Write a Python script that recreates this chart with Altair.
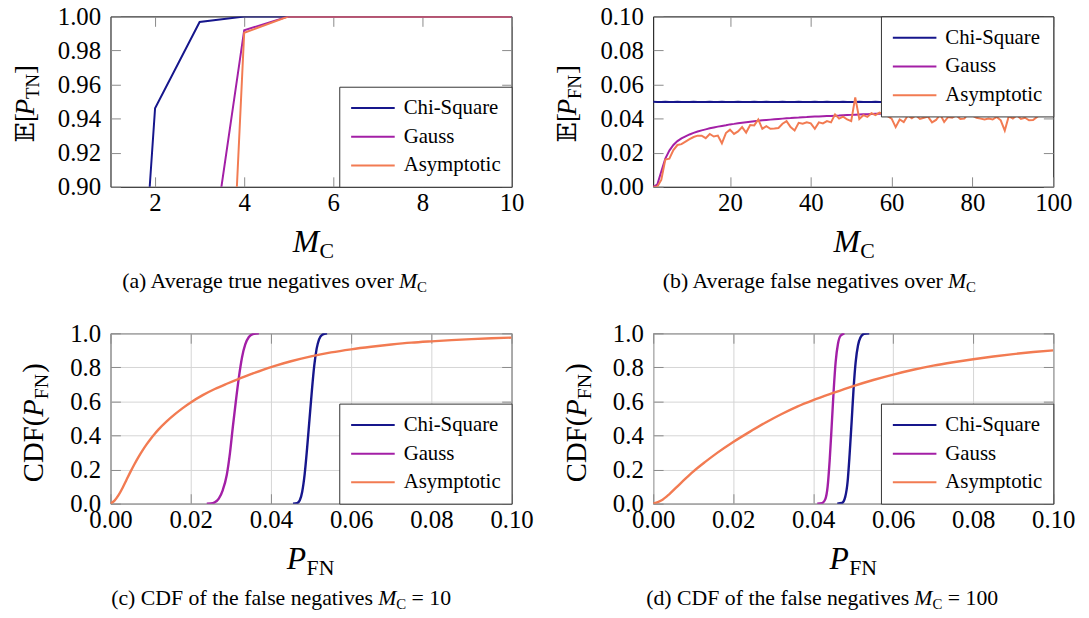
import altair as alt
import pandas as pd

SERIES = ["Chi-Square", "Gauss", "Asymptotic"]
COLORS = ["#16168c", "#a31fa6", "#f27b52"]
FONT = "Liberation Serif"
MATHFONT = "Liberation Serif, DejaVu Serif, DejaVu Sans"
TICK = "#8a8a8a"
GRID = "#d4d4d4"

# ---------------- (a) average true negatives over M_C ----------------
a_M = [1, 2, 3, 4, 5, 6, 7, 8, 9, 10]
a_chi = [0.563, 0.946, 0.9967, 0.9999, 1.0, 1.0, 1.0, 1.0, 1.0, 1.0]
a_gauss = [0.021, 0.352, 0.812, 0.9919, 1.0, 1.0, 1.0, 1.0, 1.0, 1.0]
a_asym = [0.004, 0.118, 0.439, 0.9904, 1.0, 1.0, 1.0, 1.0, 1.0, 1.0]

# ---------------- (b) average false negatives over M_C ----------------
b_M = list(range(1, 101))
b_chi = [0.0499, 0.0498, 0.0498, 0.0499, 0.0498, 0.0498, 0.0499, 0.0498, 0.0498, 0.0498,
         0.0499, 0.0498, 0.0498, 0.0498, 0.0499, 0.0498, 0.0498, 0.0499, 0.0498, 0.0498,
         0.0498, 0.0499, 0.0498, 0.0498, 0.0498, 0.0499, 0.0498, 0.0498, 0.0499, 0.0498,
         0.0498, 0.0498, 0.0499, 0.0498, 0.0498, 0.0498, 0.0499, 0.0498, 0.0498, 0.0498,
         0.0499, 0.0498, 0.0498, 0.0499, 0.0498, 0.0498, 0.0498, 0.0499, 0.0498, 0.0498,
         0.0498, 0.0499, 0.0498, 0.0498, 0.0498, 0.0499, 0.0498, 0.0498, 0.0499, 0.0498,
         0.0498, 0.0498, 0.0499, 0.0498, 0.0498, 0.0498, 0.0499, 0.0498, 0.0498, 0.0498,
         0.0499, 0.0498, 0.0498, 0.0499, 0.0498, 0.0498, 0.0498, 0.0499, 0.0498, 0.0498,
         0.0498, 0.0499, 0.0498, 0.0498, 0.0498, 0.0499, 0.0498, 0.0498, 0.0499, 0.0498,
         0.0498, 0.0498, 0.0499, 0.0498, 0.0498, 0.0498, 0.0499, 0.0498, 0.0498, 0.0498]
b_gauss = [0.0000, 0.0012, 0.0090, 0.0165, 0.0212, 0.0245, 0.0268, 0.0284, 0.0296, 0.0307,
           0.0316, 0.0324, 0.0331, 0.0337, 0.0343, 0.0348, 0.0353, 0.0357, 0.0361, 0.0366,
           0.0369, 0.0373, 0.0376, 0.0379, 0.0382, 0.0385, 0.0387, 0.0390, 0.0392, 0.0394,
           0.0396, 0.0398, 0.0400, 0.0402, 0.0403, 0.0405, 0.0406, 0.0408, 0.0409, 0.0411,
           0.0412, 0.0413, 0.0414, 0.0415, 0.0416, 0.0417, 0.0418, 0.0420, 0.0421, 0.0422,
           0.0423, 0.0424, 0.0425, 0.0426, 0.0427, 0.0428, 0.0429, 0.0430, 0.0430, 0.0431,
           0.0432, 0.0432, 0.0433, 0.0433, 0.0434, 0.0434, 0.0435, 0.0435, 0.0436, 0.0436,
           0.0437, 0.0437, 0.0437, 0.0438, 0.0438, 0.0438, 0.0439, 0.0439, 0.0439, 0.0440,
           0.0440, 0.0440, 0.0440, 0.0441, 0.0441, 0.0441, 0.0441, 0.0442, 0.0442, 0.0442,
           0.0442, 0.0442, 0.0443, 0.0443, 0.0443, 0.0443, 0.0443, 0.0444, 0.0444, 0.0444]
b_asym = [0.0000, 0.0000, 0.0040, 0.0160, 0.0165, 0.0215, 0.0245, 0.0250, 0.0265, 0.0280,
          0.0292, 0.0300, 0.0300, 0.0285, 0.0310, 0.0295, 0.0300, 0.0255, 0.0315, 0.0335,
          0.0310, 0.0325, 0.0350, 0.0318, 0.0362, 0.0360, 0.0395, 0.0340, 0.0355, 0.0340,
          0.0342, 0.0345, 0.0370, 0.0385, 0.0350, 0.0330, 0.0375, 0.0370, 0.0378, 0.0372,
          0.0340, 0.0378, 0.0372, 0.0385, 0.0378, 0.0425, 0.0400, 0.0412, 0.0395, 0.0385,
          0.0525, 0.0398, 0.0420, 0.0410, 0.0432, 0.0420, 0.0435, 0.0425, 0.0415, 0.0400,
          0.0350, 0.0395, 0.0380, 0.0418, 0.0402, 0.0420, 0.0398, 0.0405, 0.0412, 0.0378,
          0.0392, 0.0425, 0.0380, 0.0410, 0.0405, 0.0420, 0.0398, 0.0400, 0.0430, 0.0418,
          0.0405, 0.0400, 0.0395, 0.0400, 0.0395, 0.0410, 0.0390, 0.0330, 0.0415, 0.0400,
          0.0420, 0.0398, 0.0405, 0.0390, 0.0392, 0.0410, 0.0428, 0.0415, 0.0440, 0.0430]

# ---------------- (c) CDF of P_FN, M_C = 10 ----------------
c_chi_x = [0.0455, 0.0465, 0.0472, 0.0478, 0.0484, 0.0490, 0.0496, 0.0502, 0.0508, 0.0514, 0.0520, 0.0528, 0.0540]
c_chi_y = [0.000, 0.003, 0.020, 0.070, 0.170, 0.320, 0.490, 0.660, 0.810, 0.910, 0.965, 0.992, 1.000]
c_gauss_x = [0.0240, 0.0250, 0.0260, 0.0270, 0.0280, 0.0290, 0.0298, 0.0305, 0.0312, 0.0320, 0.0328, 0.0336, 0.0345, 0.0355, 0.0370]
c_gauss_y = [0.000, 0.001, 0.008, 0.030, 0.080, 0.170, 0.300, 0.450, 0.590, 0.740, 0.860, 0.935, 0.978, 0.995, 1.000]
c_asym_x = [0.000, 0.001, 0.002, 0.003, 0.004, 0.005, 0.006, 0.007, 0.008, 0.009, 0.010, 0.011, 0.012, 0.014,
            0.016, 0.018, 0.020, 0.023, 0.026, 0.029, 0.032, 0.035, 0.038, 0.041, 0.045, 0.050, 0.055, 0.060,
            0.065, 0.070, 0.075, 0.080, 0.085, 0.090, 0.095, 0.100]
c_asym_y = [0.000, 0.018, 0.050, 0.092, 0.140, 0.188, 0.233, 0.275, 0.313, 0.348, 0.380, 0.409, 0.436, 0.483,
            0.524, 0.561, 0.594, 0.637, 0.673, 0.704, 0.733, 0.760, 0.786, 0.809, 0.836, 0.865, 0.888, 0.906,
            0.921, 0.934, 0.945, 0.953, 0.960, 0.966, 0.971, 0.975]

# ---------------- (d) CDF of P_FN, M_C = 100 ----------------
d_chi_x = [0.0460, 0.0472, 0.0480, 0.0486, 0.0491, 0.0496, 0.0501, 0.0506, 0.0512, 0.0518, 0.0527, 0.0540]
d_chi_y = [0.000, 0.004, 0.040, 0.130, 0.290, 0.480, 0.680, 0.830, 0.930, 0.975, 0.997, 1.000]
d_gauss_x = [0.0410, 0.0422, 0.0430, 0.0436, 0.0441, 0.0446, 0.0451, 0.0456, 0.0462, 0.0468, 0.0478]
d_gauss_y = [0.000, 0.003, 0.025, 0.100, 0.250, 0.450, 0.660, 0.830, 0.940, 0.985, 1.000]
d_asym_x = [0.000, 0.002, 0.004, 0.006, 0.008, 0.010, 0.013, 0.016, 0.020, 0.024, 0.028, 0.032, 0.036,
            0.040, 0.045, 0.050, 0.055, 0.060, 0.065, 0.070, 0.075, 0.080, 0.085, 0.090, 0.095, 0.100]
d_asym_y = [0.000, 0.018, 0.055, 0.100, 0.145, 0.188, 0.245, 0.298, 0.362, 0.420, 0.475, 0.525, 0.570,
            0.608, 0.650, 0.690, 0.726, 0.758, 0.786, 0.810, 0.830, 0.848, 0.864, 0.878, 0.890, 0.900]

# tick values
a_xticks = [2, 4, 6, 8, 10]
a_yticks = [0.90, 0.92, 0.94, 0.96, 0.98, 1.00]
b_xticks = [20, 40, 60, 80, 100]
b_yticks = [0.00, 0.02, 0.04, 0.06, 0.08, 0.10]
cd_xticks = [0.00, 0.02, 0.04, 0.06, 0.08, 0.10]
cd_yticks = [0.0, 0.2, 0.4, 0.6, 0.8, 1.0]


def long_df(xs, ys):
    rows = []
    for name, xv, yv in zip(SERIES, xs, ys):
        for x, y in zip(xv, yv):
            rows.append({"series": name, "x": x, "y": y})
    return pd.DataFrame(rows)


ONE = pd.DataFrame({"k": [0]})


def txt(s, x, y, size, italic=False, angle=0, align="left", font=FONT):
    kw = dict(text=s, align=align, baseline="alphabetic", font=font, fontSize=size, color="black")
    if italic:
        kw["fontStyle"] = "italic"
    if angle:
        kw["angle"] = angle
    return alt.Chart(ONE).mark_text(**kw).encode(x=alt.value(x), y=alt.value(y))


def panel(df, w, h, xdom, xvals, xfmt, ydom, yvals, yfmt, grid, lorient, interp, sw, extra):
    sx = alt.Scale(domain=xdom, nice=False, zero=False)
    sy = alt.Scale(domain=ydom, nice=False, zero=False)
    common = dict(tickSize=10, offset=-10, tickColor=TICK, tickWidth=1, domain=False,
                  labelFont=FONT, labelFontSize=25, labelColor="black", labelFlush=False,
                  labelOverlap=False, labelBound=False, gridColor=GRID, gridWidth=1)
    xb = alt.Axis(orient="bottom", values=xvals, format=xfmt, grid=grid, labelPadding=4, **common)
    yl = alt.Axis(orient="left", values=yvals, format=yfmt, grid=grid, labelPadding=10, **common)
    xt = alt.Axis(orient="top", values=xvals, labels=False, grid=False, **common)
    yr = alt.Axis(orient="right", values=yvals, labels=False, grid=False, **common)
    legend = alt.Legend(orient=lorient, offset=0, title=None, padding=11, strokeColor="#333333",
                        fillColor="white", symbolType="stroke", symbolSize=1936, symbolStrokeWidth=2,
                        labelFont=FONT, labelFontSize=21, labelOffset=8, rowPadding=7, clipHeight=21,
                        labelLimit=300, cornerRadius=0)
    lines = alt.Chart(df).mark_line(clip=True, strokeWidth=sw, interpolate=interp).encode(
        x=alt.X("x:Q", scale=sx, axis=xb, title=None),
        y=alt.Y("y:Q", scale=sy, axis=yl, title=None),
        color=alt.Color("series:N", scale=alt.Scale(domain=SERIES, range=COLORS), legend=legend),
    )
    mirror = alt.Chart(df).mark_line(clip=True, opacity=0).encode(
        x=alt.X("x:Q", scale=sx, axis=xt, title=None),
        y=alt.Y("y:Q", scale=sy, axis=yr, title=None),
        detail="series:N",
    )
    return (alt.layer(lines, mirror, *extra)
            .resolve_axis(x="independent", y="independent")
            .properties(width=w, height=h))


W1, W2, H = 405, 404, 172

a_text = [
    txt("M", 184, 238, 32, italic=True), txt("C", 211, 244, 22),
    txt("\U0001D53C[", -77.7, 127.3, 27, angle=270, font=MATHFONT),
    txt("P", -77.7, 99.9, 27, italic=True, angle=270),
    txt("TN", -72.7, 83.4, 19, angle=270),
    txt("]", -77.7, 58.1, 27, angle=270),
    txt("(a) Average true negatives over", 286, 274.3, 22, align="right"),
    txt("M", 291.3, 274.3, 22, italic=True), txt("C", 309.6, 278.3, 15),
]
b_text = [
    txt("M", 182, 238, 32, italic=True), txt("C", 209, 244, 22),
    txt("\U0001D53C[", -77.7, 127.3, 27, angle=270, font=MATHFONT),
    txt("P", -77.7, 99.9, 27, italic=True, angle=270),
    txt("FN", -72.7, 83.4, 19, angle=270),
    txt("]", -77.7, 58.1, 27, angle=270),
    txt("(b) Average false negatives over", 292.5, 274.3, 22, align="right"),
    txt("M", 297.7, 274.3, 22, italic=True), txt("C", 316, 278.3, 15),
]
c_text = [
    txt("P", 178, 238, 32, italic=True), txt("FN", 198, 244, 22),
    txt("CDF(", -67.7, 150.3, 29, angle=270),
    txt("P", -67.7, 84.3, 29, italic=True, angle=270),
    txt("FN", -62.7, 66.6, 20, angle=270),
    txt(")", -67.7, 39.9, 29, angle=270),
    txt("(c) CDF of the false negatives", 265, 274.3, 22, align="right"),
    txt("M", 270.3, 274.3, 22, italic=True), txt("C", 288.6, 278.3, 15),
    txt("= 10", 304, 274.3, 22),
]
d_text = [
    txt("P", 178, 238, 32, italic=True), txt("FN", 198, 244, 22),
    txt("CDF(", -67.7, 150.3, 29, angle=270),
    txt("P", -67.7, 84.3, 29, italic=True, angle=270),
    txt("FN", -62.7, 66.6, 20, angle=270),
    txt(")", -67.7, 39.9, 29, angle=270),
    txt("(d) CDF of the false negatives", 258.5, 274.3, 22, align="right"),
    txt("M", 263.7, 274.3, 22, italic=True), txt("C", 282, 278.3, 15),
    txt("= 100", 297.5, 274.3, 22),
]

pa = panel(long_df([a_M] * 3, [a_chi, a_gauss, a_asym]), W1, H, [1, 10], a_xticks, "d",
           [0.9, 1.0], a_yticks, ".2f", False, "bottom-right", "linear", 2, a_text)
pb = panel(long_df([b_M] * 3, [b_chi, b_gauss, b_asym]), W2, H, [1, 100], b_xticks, "d",
           [0.0, 0.1], b_yticks, ".2f", False, "top-right", "linear", 2, b_text)
pc = panel(long_df([c_chi_x, c_gauss_x, c_asym_x], [c_chi_y, c_gauss_y, c_asym_y]), W1, H, [0, 0.1],
           cd_xticks, ".2f", [0, 1], cd_yticks, ".1f", True, "bottom-right", "monotone", 2.4, c_text)
pd_ = panel(long_df([d_chi_x, d_gauss_x, d_asym_x], [d_chi_y, d_gauss_y, d_asym_y]), W2, H, [0, 0.1],
            cd_xticks, ".2f", [0, 1], cd_yticks, ".1f", True, "bottom-right", "monotone", 2.4, d_text)

chart = (alt.concat(pa, pb, pc, pd_, columns=2, spacing={"row": 148, "column": 143}, bounds="flush")
         .resolve_scale(color="independent").resolve_legend(color="independent")
         .properties(padding={"left": 2.5, "top": -7.5, "right": 5, "bottom": 5}, background="white")
         .configure_view(stroke="black", strokeWidth=1))

chart.save("out.html", embed_options={"renderer": "svg", "actions": False})
